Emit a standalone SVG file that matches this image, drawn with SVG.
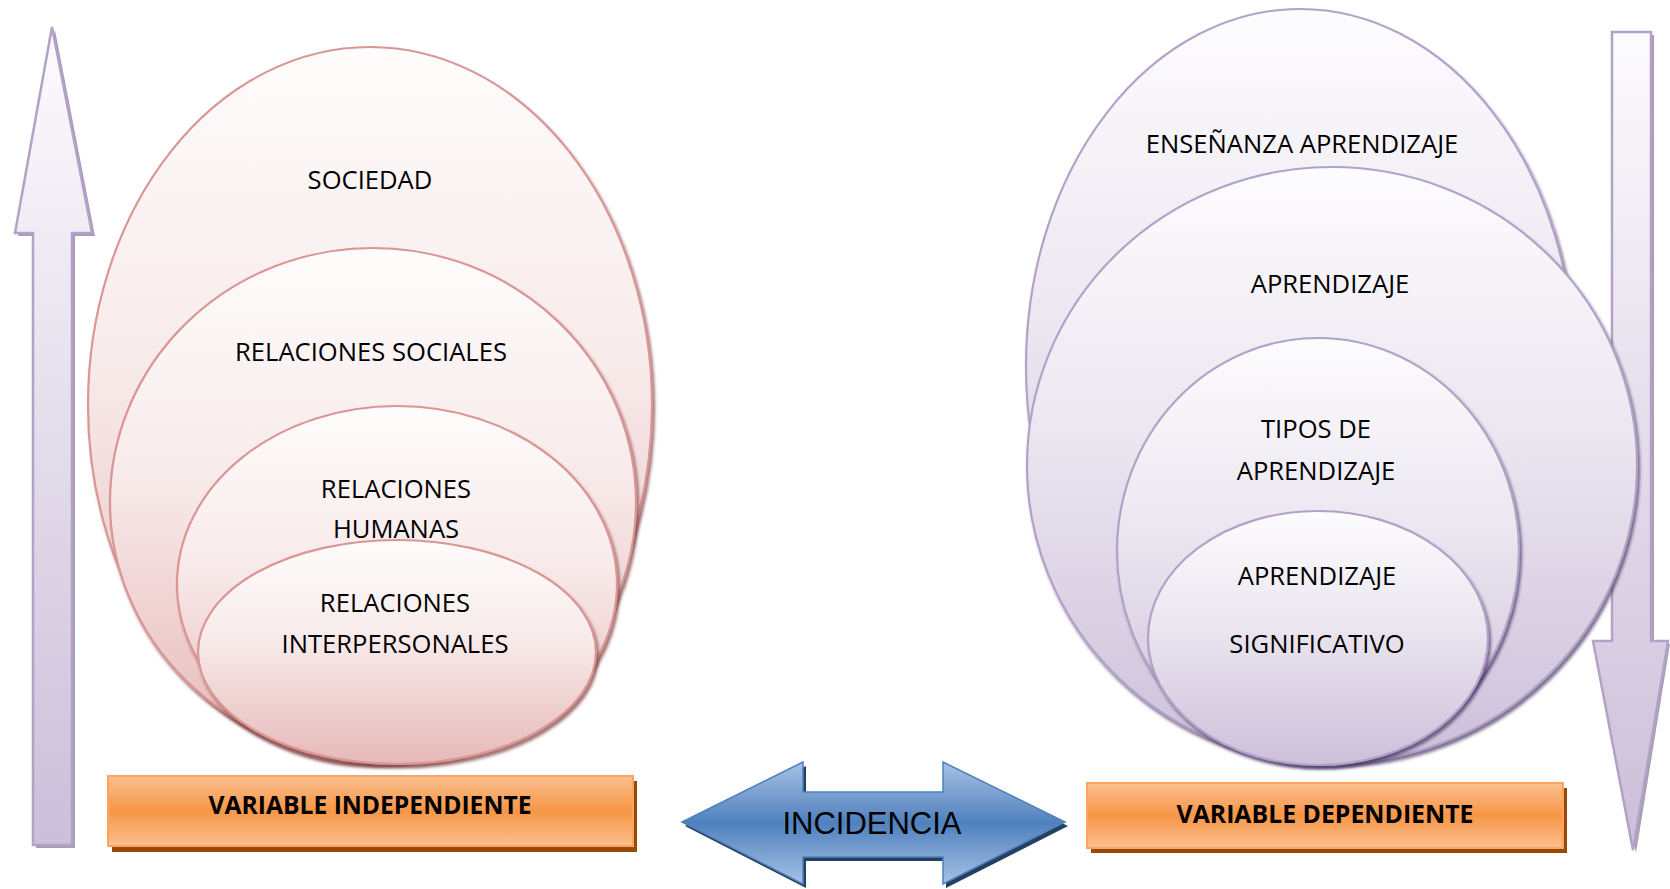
<svg xmlns="http://www.w3.org/2000/svg" width="1670" height="889" viewBox="0 0 1670 889">
<defs>
<style>
.t{font-family:"Open Sans","Noto Sans",sans-serif;font-size:25.6px;fill:#000;text-anchor:middle}
.b{font-family:"Open Sans","Noto Sans",sans-serif;font-size:25.5px;font-weight:bold;fill:#000;text-anchor:middle}
.inc{font-family:"Liberation Sans",Arial,sans-serif;font-size:31px;fill:#000;text-anchor:middle}
.pk{stroke:#d99694;stroke-width:2.2;fill:url(#gPink);filter:url(#shPink)}
.pu{stroke:#b3a2c7;stroke-width:2.2;fill:url(#gPurp);filter:url(#shPurp)}
.arr{stroke:#b3a2c7;stroke-width:2.5;fill:url(#gArr)}
.arrsh{fill:#a89db6}
.box{fill:url(#gOr);stroke:#f9a560;stroke-width:2}
.boxsh{fill:#984807}
</style>
<linearGradient id="gPink" x1="0" y1="0" x2="0" y2="1">
<stop offset="0" stop-color="#fefcfc"/><stop offset="0.45" stop-color="#f8eaea"/><stop offset="1" stop-color="#e6b9b8"/>
</linearGradient>
<linearGradient id="gPurp" x1="0" y1="0" x2="0" y2="1">
<stop offset="0" stop-color="#fdfcfe"/><stop offset="0.45" stop-color="#ebe6f0"/><stop offset="1" stop-color="#ccc0da"/>
</linearGradient>
<linearGradient id="gArr" x1="0" y1="0" x2="0" y2="1">
<stop offset="0" stop-color="#fcfbfd"/><stop offset="1" stop-color="#cbbfd9"/>
</linearGradient>
<linearGradient id="gOr" x1="0" y1="0" x2="0" y2="1">
<stop offset="0" stop-color="#fac090"/><stop offset="0.5" stop-color="#f79646"/><stop offset="1" stop-color="#fac090"/>
</linearGradient>
<linearGradient id="gBlue" x1="0" y1="0" x2="0" y2="1">
<stop offset="0" stop-color="#a7c2e6"/><stop offset="0.5" stop-color="#4f81bd"/><stop offset="1" stop-color="#a7c2e6"/>
</linearGradient>
<filter id="shPink" x="-5%" y="-5%" width="112%" height="115%">
<feDropShadow dx="2" dy="3.5" stdDeviation="1.8" flood-color="#7a3b3a" flood-opacity="0.7"/>
</filter>
<filter id="shPurp" x="-5%" y="-5%" width="112%" height="115%">
<feDropShadow dx="2" dy="3.5" stdDeviation="1.8" flood-color="#4a3966" flood-opacity="0.7"/>
</filter>
</defs>
<rect width="1670" height="889" fill="#fff"/>

<g id="arrow-up">
<polygon class="arrsh" points="55,30 95,236 75,236 75,848 36,848 36,236 18,236"/>
<polygon class="arr" points="52,27 92,233 72,233 72,845 33,845 33,233 15,233"/>
</g>
<g id="arrow-down">
<polygon class="arrsh" points="1615,35 1654,35 1654,644 1670,644 1636,853 1596,644 1615,644"/>
<polygon class="arr" points="1612,32 1651,32 1651,641 1668,641 1633,850 1593,641 1612,641"/>
</g>

<g id="sociedad">
<ellipse class="pk" cx="370" cy="405" rx="282" ry="358"/>
<text class="t" x="370" y="189">SOCIEDAD</text>
</g>
<g id="relaciones-sociales">
<ellipse class="pk" cx="373" cy="502" rx="263" ry="254"/>
<text class="t" x="371" y="361">RELACIONES SOCIALES</text>
</g>
<g id="relaciones-humanas">
<ellipse class="pk" cx="397" cy="584" rx="220" ry="178"/>
<text class="t" x="396" y="498">RELACIONES</text>
<text class="t" x="396" y="538">HUMANAS</text>
</g>
<g id="relaciones-interpersonales">
<ellipse class="pk" cx="397" cy="652" rx="199" ry="112"/>
<text class="t" x="395" y="612">RELACIONES</text>
<text class="t" x="395" y="653">INTERPERSONALES</text>
</g>

<g id="ensenanza-aprendizaje">
<ellipse class="pu" cx="1300" cy="366" rx="274" ry="357"/>
<text class="t" x="1302" y="153">ENSEÑANZA APRENDIZAJE</text>
</g>
<g id="aprendizaje">
<ellipse class="pu" cx="1332" cy="465" rx="305" ry="298"/>
<text class="t" x="1330" y="293">APRENDIZAJE</text>
</g>
<g id="tipos-aprendizaje">
<ellipse class="pu" cx="1318" cy="551" rx="201" ry="213"/>
<text class="t" x="1316" y="438">TIPOS DE</text>
<text class="t" x="1316" y="480">APRENDIZAJE</text>
</g>
<g id="aprendizaje-significativo">
<ellipse class="pu" cx="1318" cy="638" rx="170" ry="127"/>
<text class="t" x="1317" y="585">APRENDIZAJE</text>
<text class="t" x="1317" y="653">SIGNIFICATIVO</text>
</g>

<g id="variable-independiente">
<rect class="boxsh" x="112" y="781" width="525" height="71"/>
<rect class="box" x="108" y="776" width="525" height="70"/>
<text class="b" x="370" y="814" textLength="323" lengthAdjust="spacingAndGlyphs">VARIABLE INDEPENDIENTE</text>
</g>
<g id="variable-dependiente">
<rect class="boxsh" x="1091" y="788" width="476" height="65"/>
<rect class="box" x="1087" y="783" width="476" height="65"/>
<text class="b" x="1325" y="823" textLength="297" lengthAdjust="spacingAndGlyphs">VARIABLE DEPENDIENTE</text>
</g>

<g id="connectors">
<g id="incidencia">
<polygon fill="#243f60" points="685,826 806,766 806,796 946,796 946,766 1068,826 946,888 946,861 806,861 806,888"/>
<polygon fill="url(#gBlue)" stroke="#4f81bd" stroke-width="1.5" points="682,822 803,762 803,792 943,792 943,762 1065,822 943,884 943,857 803,857 803,884"/>
<text class="inc" x="872" y="834">INCIDENCIA</text>
</g>
</g>
</svg>
